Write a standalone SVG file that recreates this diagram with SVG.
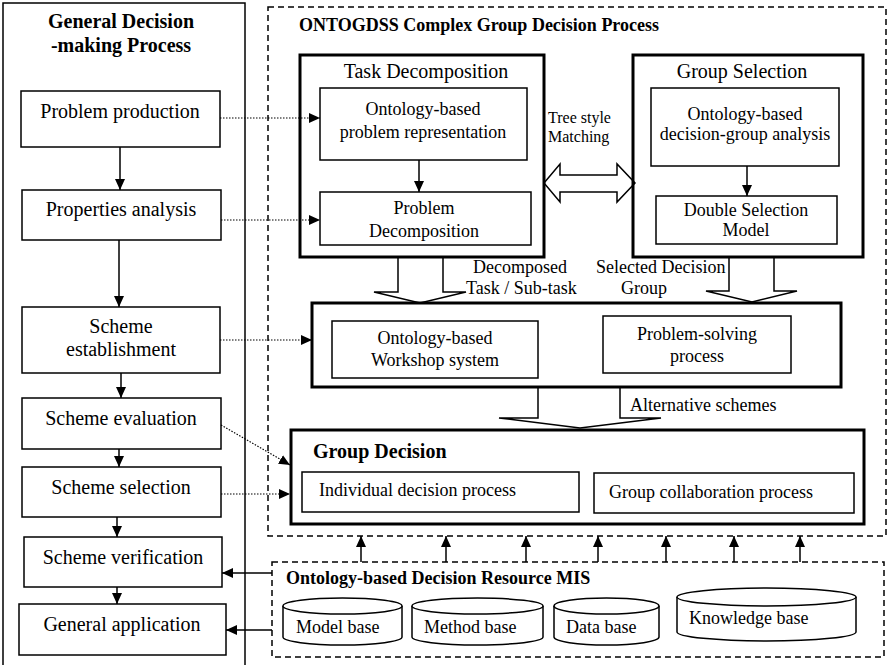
<svg xmlns="http://www.w3.org/2000/svg" width="891" height="665" viewBox="0 0 891 665">
<style>
text{font-family:"Liberation Serif","Times New Roman",serif;fill:#000}
.t20{font-size:20px}
.t18{font-size:18px}
.t16{font-size:16px}
.b{font-weight:bold}
.box{fill:none;stroke:#000;stroke-width:1.5}
.thick{fill:none;stroke:#000;stroke-width:3}
.dash{fill:none;stroke:#000;stroke-width:1.5;stroke-dasharray:6 4}
.ln{fill:none;stroke:#000;stroke-width:1.5}
.dot{fill:none;stroke:#000;stroke-width:1.2;stroke-dasharray:1.5 1.5}
.hollow{fill:#fff;stroke:#000;stroke-width:1.5;stroke-linejoin:miter}
.cyl{fill:#fff;stroke:#000;stroke-width:1.5}
</style>
<defs>
<marker id="ah" viewBox="0 0 11 10" refX="11" refY="5" markerWidth="11" markerHeight="10" markerUnits="userSpaceOnUse" orient="auto">
<path d="M0,0 L11,5 L0,10 z" fill="#000"/>
</marker>
</defs>
<rect width="891" height="665" fill="#fff"/>

<g id="connectors">
<!-- left panel flow -->
<line class="ln" x1="120" y1="147" x2="120" y2="190" marker-end="url(#ah)"/>
<line class="ln" x1="119" y1="240" x2="119" y2="307" marker-end="url(#ah)"/>
<line class="ln" x1="121" y1="373" x2="121" y2="398" marker-end="url(#ah)"/>
<line class="ln" x1="119" y1="449" x2="119" y2="467" marker-end="url(#ah)"/>
<line class="ln" x1="117" y1="517" x2="117" y2="537" marker-end="url(#ah)"/>
<line class="ln" x1="117" y1="587" x2="117" y2="604" marker-end="url(#ah)"/>
<!-- dotted links -->
<line class="dot" x1="220" y1="118" x2="320" y2="118" marker-end="url(#ah)"/>
<line class="dot" x1="221" y1="220" x2="320" y2="220" marker-end="url(#ah)"/>
<line class="dot" x1="220" y1="340" x2="312" y2="340" marker-end="url(#ah)"/>
<line class="dot" x1="221" y1="425" x2="290" y2="465" marker-end="url(#ah)"/>
<line class="dot" x1="221" y1="494" x2="290" y2="494" marker-end="url(#ah)"/>
<!-- inner arrows -->
<line class="ln" x1="419" y1="160" x2="419" y2="192" marker-end="url(#ah)"/>
<line class="ln" x1="747" y1="166" x2="747" y2="196" marker-end="url(#ah)"/>
<!-- hollow arrows -->
<polygon class="hollow" points="544,183 560,164 560,175 617,175 617,164 635,183 617,202 617,192 560,192 560,202"/>
<polygon class="hollow" points="398,257 443,257 443,292 466,292 420,303 374,292 398,292"/>
<polygon class="hollow" points="729,257 774,257 774,291 797,291 752,302 706,291 729,291"/>
<polygon class="hollow" points="538,387 620,387 620,418 661,418 580,428 499,418 538,418"/>
<!-- MIS up arrows -->
<line class="ln" x1="361" y1="562" x2="361" y2="536" marker-end="url(#ah)"/>
<line class="ln" x1="446" y1="562" x2="446" y2="536" marker-end="url(#ah)"/>
<line class="ln" x1="526" y1="562" x2="526" y2="536" marker-end="url(#ah)"/>
<line class="ln" x1="598" y1="562" x2="598" y2="536" marker-end="url(#ah)"/>
<line class="ln" x1="666" y1="562" x2="666" y2="536" marker-end="url(#ah)"/>
<line class="ln" x1="734" y1="562" x2="734" y2="536" marker-end="url(#ah)"/>
<line class="ln" x1="800" y1="562" x2="800" y2="536" marker-end="url(#ah)"/>
<!-- MIS to left -->
<line class="ln" x1="272" y1="573" x2="222" y2="573" marker-end="url(#ah)"/>
<line class="ln" x1="272" y1="630" x2="226" y2="630" marker-end="url(#ah)"/>
</g>

<g id="general-process">
<rect class="box" x="3" y="3" width="242" height="670"/>
<text class="t20 b" x="121" y="28" text-anchor="middle">General Decision</text>
<text class="t20 b" x="121" y="52" text-anchor="middle">-making Process</text>
</g>
<g id="problem-production">
<rect class="box" x="21" y="91" width="199" height="56"/>
<text class="t20" x="120" y="118" text-anchor="middle">Problem production</text>
</g>
<g id="properties-analysis">
<rect class="box" x="22" y="190" width="199" height="50"/>
<text class="t20" x="121" y="216" text-anchor="middle">Properties analysis</text>
</g>
<g id="scheme-establishment">
<rect class="box" x="22" y="307" width="198" height="66"/>
<text class="t20" x="121" y="333" text-anchor="middle">Scheme</text>
<text class="t20" x="121" y="356" text-anchor="middle">establishment</text>
</g>
<g id="scheme-evaluation">
<rect class="box" x="22" y="398" width="199" height="51"/>
<text class="t20" x="121" y="425" text-anchor="middle">Scheme evaluation</text>
</g>
<g id="scheme-selection">
<rect class="box" x="22" y="467" width="199" height="50"/>
<text class="t20" x="121" y="494" text-anchor="middle">Scheme selection</text>
</g>
<g id="scheme-verification">
<rect class="box" x="24" y="537" width="198" height="50"/>
<text class="t20" x="123" y="564" text-anchor="middle">Scheme verification</text>
</g>
<g id="general-application">
<rect class="box" x="19" y="604" width="207" height="51"/>
<text class="t20" x="122" y="631" text-anchor="middle">General application</text>
</g>

<g id="ontogdss">
<rect class="dash" x="268" y="7" width="618" height="529"/>
<text class="t18 b" x="299" y="31">ONTOGDSS Complex Group Decision Process</text>
</g>

<g id="task-decomposition">
<rect class="thick" x="300" y="55" width="244" height="202"/>
<text class="t20" x="426" y="78" text-anchor="middle">Task Decomposition</text>
</g>
<g id="ontology-problem-representation">
<rect class="box" x="320" y="88" width="207" height="72"/>
<text class="t18" x="423" y="115" text-anchor="middle">Ontology-based</text>
<text class="t18" x="423" y="138" text-anchor="middle">problem representation</text>
</g>
<g id="problem-decomposition">
<rect class="box" x="320" y="192" width="211" height="53"/>
<text class="t18" x="424" y="214" text-anchor="middle">Problem</text>
<text class="t18" x="424" y="237" text-anchor="middle">Decomposition</text>
</g>

<g id="tree-style-matching">
<text class="t16" x="548" y="123">Tree style</text>
<text class="t16" x="548" y="142">Matching</text>
</g>

<g id="group-selection">
<rect class="thick" x="633" y="55" width="230" height="202"/>
<text class="t20" x="742" y="78" text-anchor="middle">Group Selection</text>
</g>
<g id="decision-group-analysis">
<rect class="box" x="651" y="88" width="188" height="78"/>
<text class="t18" x="745" y="120" text-anchor="middle">Ontology-based</text>
<text class="t18" x="745" y="140" text-anchor="middle">decision-group analysis</text>
</g>
<g id="double-selection-model">
<rect class="box" x="656" y="196" width="181" height="48"/>
<text class="t18" x="746" y="216" text-anchor="middle">Double Selection</text>
<text class="t18" x="746" y="236" text-anchor="middle">Model</text>
</g>

<g id="labels">
<text class="t18" x="520" y="273" text-anchor="middle">Decomposed</text>
<text class="t18" x="466" y="294">Task / Sub-task</text>
<text class="t18" x="596" y="273">Selected Decision</text>
<text class="t18" x="621" y="294">Group</text>
<text class="t18" x="630" y="411">Alternative schemes</text>
</g>

<g id="workshop">
<rect class="thick" x="312" y="303" width="529" height="84"/>
</g>
<g id="workshop-system">
<rect class="box" x="332" y="321" width="206" height="57"/>
<text class="t18" x="435" y="344" text-anchor="middle">Ontology-based</text>
<text class="t18" x="435" y="366" text-anchor="middle">Workshop system</text>
</g>
<g id="problem-solving">
<rect class="box" x="603" y="316" width="188" height="57"/>
<text class="t18" x="697" y="340" text-anchor="middle">Problem-solving</text>
<text class="t18" x="697" y="362" text-anchor="middle">process</text>
</g>

<g id="group-decision">
<rect class="thick" x="291" y="430" width="573" height="94"/>
<text class="t20 b" x="313" y="458">Group Decision</text>
</g>
<g id="individual-decision">
<rect class="box" x="302" y="472" width="277" height="40"/>
<text class="t18" x="319" y="496">Individual decision process</text>
</g>
<g id="group-collaboration">
<rect class="box" x="594" y="473" width="260" height="40"/>
<text class="t18" x="609" y="498">Group collaboration process</text>
</g>

<g id="mis">
<rect class="dash" x="272" y="562" width="612" height="95"/>
<text class="t18 b" x="286" y="584">Ontology-based Decision Resource MIS</text>
</g>
<g id="model-base">
<path class="cyl" d="M283,606 V637 A59.5,8 0 0 0 402,637 V606"/>
<ellipse class="cyl" cx="342.5" cy="606" rx="59.5" ry="8"/>
<text class="t18" x="296" y="633">Model base</text>
</g>
<g id="method-base">
<path class="cyl" d="M412,606 V637 A65.5,8 0 0 0 543,637 V606"/>
<ellipse class="cyl" cx="477.5" cy="606" rx="65.5" ry="8"/>
<text class="t18" x="424" y="633">Method base</text>
</g>
<g id="data-base">
<path class="cyl" d="M554,606 V637 A52.5,8 0 0 0 659,637 V606"/>
<ellipse class="cyl" cx="606.5" cy="606" rx="52.5" ry="8"/>
<text class="t18" x="566" y="633">Data base</text>
</g>
<g id="knowledge-base">
<path class="cyl" d="M677,597 V632 A89.5,9 0 0 0 856,632 V597"/>
<ellipse class="cyl" cx="766.5" cy="597" rx="89.5" ry="9"/>
<text class="t18" x="689" y="624">Knowledge base</text>
</g>
</svg>
